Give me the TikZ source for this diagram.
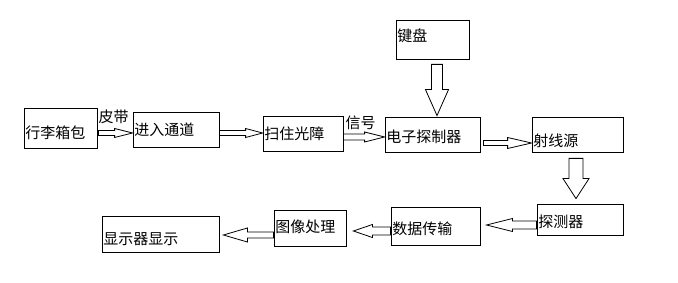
\documentclass[tikz,border=0pt]{standalone}
\usepackage{fontspec}
\setmainfont{Noto Sans CJK SC}
\usepackage{tikz}
\usetikzlibrary{calc}

\begin{document}
\begin{tikzpicture}[
    x=1pt, y=-1pt,
    font=\fontsize{15pt}{17pt}\selectfont,
    box/.style={draw, line width=0.8pt, inner sep=0pt},
    txt/.style={anchor=west, inner sep=0pt},
    hollow/.style={draw, line width=0.8pt, line join=miter},
]
\useasboundingbox (0,0) rectangle (678,283);

% boxes: name / centre / width / height / text offset / text
\foreach \name/\cx/\cy/\w/\h/\dy/\txt in {
    bag/60.5/128/73/40/4.5/行李箱包,
    tunnel/176/129.5/86/35/0.5/进入通道,
    curtain/303/133.5/80/35/0/扫住光障,
    ctrl/432.5/134.5/95/35/2.5/电子探制器,
    keys/432.5/39.5/73/39/-4/键盘,
    source/577.5/134.5/91/35/6/射线源,
    detector/580/219.5/86/31/2/探测器,
    data/435.5/226/89/38/2.5/数据传输,
    image/310/228/72/36/-1.5/图像处理,
    display/160.5/234/117/36/5.5/显示器显示} {
    \node[box, minimum width=\w pt, minimum height=\h pt] (\name) at (\cx,\cy) {};
    \node[txt] (\name-t) at ([shift={(1.5,\dy)}]\name.west) {\txt};
}

% labels on the first arrows
\node[txt] (belt) at ([shift={(1,-11)}]bag.east) {皮带};
\node[txt] (signal) at ([shift={(2,-10.5)}]curtain.east) {信号};

% hollow block arrows: from / shift / to / shift / shaft / head / head length
\foreach \a/\ax/\ay/\b/\bx/\by/\s/\h/\l in {
    bag.east/1/5/tunnel.west/0/3.5/2.5/4.5/18,
    tunnel.east/0/3.5/curtain.west/0/-0.5/2.5/4.5/17,
    curtain.east/0/3.5/ctrl.west/0/2.5/3/5/20,
    ctrl.east/3/8.5/source.west/0/8.5/2.5/5.5/24,
    keys.south/4.5/5/ctrl.north/4.5/-1/5.5/11.5/26,
    source.south/-1.5/6/detector.north/-4/-5/7/13/20,
    detector.west/0/5.5/data.east/6/-1/4/6.5/26,
    data.west/0/5/image.east/7/3/4/6.5/19,
    image.west/0/7/display.east/4/1/3/7/24} {
    \path ([shift={(\ax,\ay)}]\a) coordinate (p)
          ([shift={(\bx,\by)}]\b) coordinate (q);
    \coordinate (m) at ($(q)!\l pt!(p)$);
    \draw[hollow] ($(p)!\s pt!90:(q)$) -- ($(m)!\s pt!90:(q)$)
        -- ($(m)!\h pt!90:(q)$) -- (q) -- ($(m)!\h pt!-90:(q)$)
        -- ($(m)!\s pt!-90:(q)$) -- ($(p)!\s pt!-90:(q)$) -- cycle;
}

\end{tikzpicture}
\end{document}
